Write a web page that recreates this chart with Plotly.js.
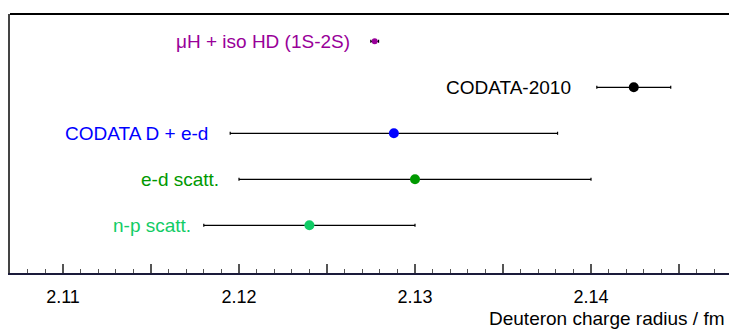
<!DOCTYPE html>
<html>
<head>
<meta charset="utf-8">
<script src="https://cdn.plot.ly/plotly-3.0.1.min.js"></script>
<style>html,body{margin:0;padding:0;background:#fff}#chart{width:729px;height:329px}</style>
</head>
<body>
<div id="chart"></div>
<script>
// Data
const labels = ["\u03bcH + iso HD (1S-2S)", "CODATA-2010", "CODATA D + e-d", "e-d scatt.", "n-p scatt."];
const radius = [2.12771, 2.14243, 2.1288, 2.1300, 2.1240];
const uncertainty = [0.00022, 0.0021, 0.0093, 0.0100, 0.0060];
const rowIndex = [5, 4, 3, 2, 1];
const tickValues = [2.105, 2.11, 2.115, 2.12, 2.125, 2.13, 2.135, 2.14, 2.145];
const tickLabels = ["", "2.11", "", "2.12", "", "2.13", "", "2.14", ""];

// Styles
const colors = ["#990099", "#000000", "#0000ff", "#009900", "#11cc66"];
const markerSizes = [6, 10, 10, 10, 10];
const labelShift = [-19, -24, -20, -18, -11];
const FONT = "Liberation Sans, Arial, sans-serif";

const barTrace = {
  type: "scatter",
  mode: "markers",
  x: radius,
  y: rowIndex,
  marker: {color: "rgba(0,0,0,0)", size: 1},
  error_x: {type: "data", array: uncertainty, visible: true, color: "#000000", thickness: 1.2, width: 1.5},
  hoverinfo: "skip",
  showlegend: false
};
const pointTrace = {
  type: "scatter",
  mode: "markers",
  x: radius,
  y: rowIndex,
  marker: {color: colors, size: markerSizes, opacity: 1, line: {width: 0}},
  hoverinfo: "skip",
  showlegend: false
};

const annotations = labels.map((t, i) => ({
  text: t,
  x: radius[i] - uncertainty[i],
  y: rowIndex[i],
  xref: "x", yref: "y",
  xanchor: "right", yanchor: "middle",
  xshift: labelShift[i],
  showarrow: false,
  font: {family: FONT, size: 19, color: colors[i]}
}));
annotations.push({
  text: "Deuteron charge radius / fm",
  xref: "paper", yref: "paper",
  x: 1, y: -0.175,
  xanchor: "right", yanchor: "middle",
  xshift: -2,
  showarrow: false,
  font: {family: FONT, size: 19, color: "#000000"}
});

const layout = {
  width: 729, height: 329,
  margin: {l: 10, r: 0, t: 14, b: 56, pad: 0},
  paper_bgcolor: "#ffffff", plot_bgcolor: "#ffffff",
  font: {family: FONT, size: 18, color: "#000000"},
  xaxis: {
    range: [2.106989, 2.147841],
    tickmode: "array", tickvals: tickValues, ticktext: tickLabels,
    ticks: "inside", ticklen: 9, tickwidth: 1.2, tickcolor: "#555555",
    ticklabelstandoff: 6,
    minor: {dtick: 0.001, tick0: 2.1, ticks: "inside", ticklen: 4, tickwidth: 1, tickcolor: "#555555"},
    showline: true, linecolor: "#1a1a3a", linewidth: 2,
    showgrid: false, zeroline: false,
    tickfont: {family: FONT, size: 18, color: "#000000"}
  },
  yaxis: {
    range: [-0.037, 5.593],
    showline: true, linecolor: "#444444", linewidth: 2,
    showticklabels: false, ticks: "", showgrid: false, zeroline: false
  },
  shapes: [{type: "line", xref: "paper", yref: "paper", x0: 0, x1: 1, y0: 1, y1: 1, line: {color: "#000000", width: 2}}],
  annotations: annotations
};

Plotly.newPlot("chart", [barTrace, pointTrace], layout, {staticPlot: true, displayModeBar: false});
</script>
</body>
</html>
